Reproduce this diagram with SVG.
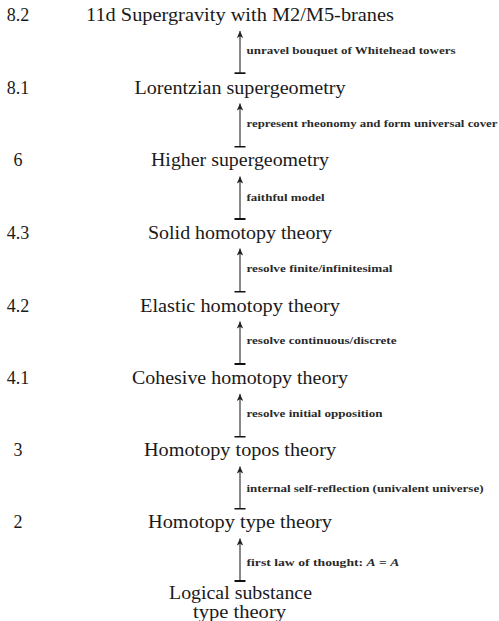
<svg xmlns="http://www.w3.org/2000/svg" width="499" height="621" viewBox="0 0 499 621">
<style>
text{font-family:'Liberation Serif','Times New Roman','DejaVu Serif',serif}
.node{font-size:18px;fill:#1a1a1a;text-anchor:middle}
.num{font-size:18px;fill:#1a1a1a;text-anchor:middle}
.lbl{font-size:9.5px;font-weight:bold;fill:#2a2a2a}
.lbl .m{font-style:italic}
.edge{stroke:#4a4a4a;stroke-width:1.3;fill:none;marker-end:url(#head);marker-start:url(#bar)}
</style>
<defs>
<marker id="head" viewBox="0 -4 8 8" markerWidth="8" markerHeight="8" refX="7" refY="0" orient="auto" markerUnits="userSpaceOnUse">
<path d="M7,0 L0,-3.2 L1.8,0 L0,3.2 Z" fill="#222"/>
</marker>
<marker id="bar" viewBox="-1 -6 2 12" markerWidth="2" markerHeight="12" refX="0" refY="0" orient="auto" markerUnits="userSpaceOnUse">
<path d="M0,-5.5 L0,5.5" stroke="#111" stroke-width="2"/>
</marker>
</defs>

<g id="n82"><text class="num" x="18" y="20.7">8.2</text><text class="node" x="240" y="20.7" textLength="308" lengthAdjust="spacingAndGlyphs">11d Supergravity with M2/M5-branes</text></g>
<g id="n81"><text class="num" x="18" y="93.8">8.1</text><text class="node" x="240" y="93.8" textLength="211" lengthAdjust="spacingAndGlyphs">Lorentzian supergeometry</text></g>
<g id="n6"><text class="num" x="18" y="166">6</text><text class="node" x="240" y="166" textLength="178" lengthAdjust="spacingAndGlyphs">Higher supergeometry</text></g>
<g id="n43"><text class="num" x="18" y="238.7">4.3</text><text class="node" x="240" y="238.7" textLength="184" lengthAdjust="spacingAndGlyphs">Solid homotopy theory</text></g>
<g id="n42"><text class="num" x="18" y="311.5">4.2</text><text class="node" x="240" y="311.5" textLength="200" lengthAdjust="spacingAndGlyphs">Elastic homotopy theory</text></g>
<g id="n41"><text class="num" x="18" y="384">4.1</text><text class="node" x="240" y="384" textLength="216" lengthAdjust="spacingAndGlyphs">Cohesive homotopy theory</text></g>
<g id="n3"><text class="num" x="18" y="456">3</text><text class="node" x="240" y="456" textLength="192" lengthAdjust="spacingAndGlyphs">Homotopy topos theory</text></g>
<g id="n2"><text class="num" x="18" y="528.3">2</text><text class="node" x="240" y="528.3" textLength="184" lengthAdjust="spacingAndGlyphs">Homotopy type theory</text></g>
<g id="n0"><text class="node" x="240.5" y="599.3" textLength="143" lengthAdjust="spacingAndGlyphs">Logical substance</text><text class="node" x="239.5" y="618.3" textLength="93" lengthAdjust="spacingAndGlyphs">type theory</text></g>

<g id="connectors">
<g id="e1"><path class="edge" d="M240,73.3 L240,31"/><text class="lbl" x="246.5" y="54" textLength="209" lengthAdjust="spacingAndGlyphs">unravel bouquet of Whitehead towers</text></g>
<g id="e2"><path class="edge" d="M240,146.5 L240,103.5"/><text class="lbl" x="246.5" y="126.7" textLength="251" lengthAdjust="spacingAndGlyphs">represent rheonomy and form universal cover</text></g>
<g id="e3"><path class="edge" d="M240,219 L240,176.5"/><text class="lbl" x="246.5" y="200.5" textLength="78" lengthAdjust="spacingAndGlyphs">faithful model</text></g>
<g id="e4"><path class="edge" d="M240,291.5 L240,248.5"/><text class="lbl" x="246.5" y="271.7" textLength="146" lengthAdjust="spacingAndGlyphs">resolve finite/infinitesimal</text></g>
<g id="e5"><path class="edge" d="M240,364 L240,321.5"/><text class="lbl" x="246.5" y="344" textLength="150" lengthAdjust="spacingAndGlyphs">resolve continuous/discrete</text></g>
<g id="e6"><path class="edge" d="M240,436.5 L240,394"/><text class="lbl" x="246.5" y="416.7" textLength="136" lengthAdjust="spacingAndGlyphs">resolve initial opposition</text></g>
<g id="e7"><path class="edge" d="M240,508.5 L240,466.5"/><text class="lbl" x="246.5" y="491.7" textLength="237" lengthAdjust="spacingAndGlyphs">internal self-reflection (univalent universe)</text></g>
<g id="e8"><path class="edge" d="M240,581 L240,538.5"/><text class="lbl" x="246.5" y="565.5" textLength="153" lengthAdjust="spacingAndGlyphs">first law of thought:  <tspan class="m">A</tspan> = <tspan class="m">A</tspan></text></g>
</g>
</svg>
